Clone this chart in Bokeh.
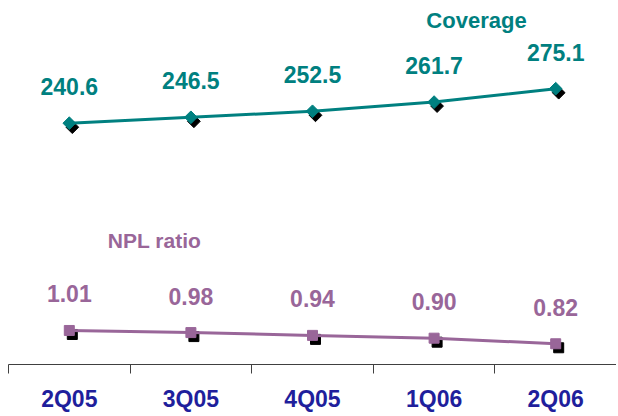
import numpy as np
from bokeh.plotting import figure
from bokeh.models import (Range1d, LinearAxis, FixedTicker, ColumnDataSource,
                          LabelSet, Label)
from bokeh.transform import dodge
from bokeh.core.properties import value
from bokeh.embed import file_html
from bokeh.resources import INLINE

# ---- data ----
quarters = ["2Q05", "3Q05", "4Q05", "1Q06", "2Q06"]
coverage = [240.6, 246.5, 252.5, 261.7, 275.1]
npl_ratio = [1.01, 0.98, 0.94, 0.90, 0.82]

# ---- style ----
TEAL = "#008080"
PURPLE = "#996699"
BLUE = "#1F1F9C"
AXIS = "#404040"
FONT = "Liberation Sans"
FW, FH = 608, 356

xs = list(range(1, len(quarters) + 1))
x_rng = Range1d(0.5, len(quarters) + 0.5)
npl_rng = Range1d(0.524, 0.524 + FH / 70.0)
cov_rng = Range1d(-0.7, -0.7 + FH / 1.0)

src = ColumnDataSource(dict(
    x=xs, q=quarters, cov=coverage, npl=npl_ratio,
    cov_lbl=[f"{v:.1f}" for v in coverage],
    npl_lbl=[f"{v:.2f}" for v in npl_ratio],
))

p = figure(frame_width=FW, frame_height=FH, x_range=x_rng, y_range=npl_rng,
           output_backend="svg", toolbar_location=None,
           min_border_left=8, min_border_right=0, min_border_top=8,
           min_border_bottom=0, x_axis_location=None, y_axis_location=None)
p.extra_y_ranges = {"cov": cov_rng}
p.outline_line_color = None
p.xgrid.visible = False
p.ygrid.visible = False
p.background_fill_color = "white"

# shadow offsets in data units (3px right, 4px down)
dx = 3 * (x_rng.end - x_rng.start) / FW
dy_cov = -4 * (cov_rng.end - cov_rng.start) / FH
dy_npl = -4 * (npl_rng.end - npl_rng.start) / FH

# Coverage series
p.scatter(x=dodge("x", dx), y=dodge("cov", dy_cov), source=src, y_range_name="cov",
          marker="square", angle=np.pi / 4, size=9, color="black")
p.line("x", "cov", source=src, y_range_name="cov", color=TEAL, line_width=3)
p.scatter("x", "cov", source=src, y_range_name="cov",
          marker="square", angle=np.pi / 4, size=9, color=TEAL)

# NPL series
p.scatter(x=dodge("x", dx), y=dodge("npl", dy_npl), source=src,
          marker="square", size=10, color="black")
p.line("x", "npl", source=src, color=PURPLE, line_width=3)
p.scatter("x", "npl", source=src, marker="square", size=10, color=PURPLE)

# value labels
p.add_layout(LabelSet(x="x", y="cov", text="cov_lbl", source=src, y_range_name="cov",
                      y_offset=28, text_align="center", text_baseline="alphabetic",
                      text_font=value(FONT), text_font_style="bold",
                      text_font_size="23px", text_color=TEAL))
p.add_layout(LabelSet(x="x", y="npl", text="npl_lbl", source=src,
                      y_offset=28, text_align="center", text_baseline="alphabetic",
                      text_font=value(FONT), text_font_style="bold",
                      text_font_size="23px", text_color=PURPLE))

# series titles
p.add_layout(Label(x=468, y=FH - 12, x_units="screen", y_units="screen",
                   text="Coverage", text_align="center", text_baseline="alphabetic",
                   text_font=FONT, text_font_style="bold", text_font_size="22px",
                   text_color=TEAL))
p.add_layout(Label(x=146, y=FH - 232, x_units="screen", y_units="screen",
                   text="NPL ratio", text_align="center", text_baseline="alphabetic",
                   text_font=FONT, text_font_style="bold", text_font_size="21px",
                   text_color=PURPLE))

# category axis: labels at centres, tick marks between categories
ax = LinearAxis(ticker=FixedTicker(ticks=xs,
                                   minor_ticks=[v - 0.5 for v in xs] + [xs[-1] + 0.5]))
ax.major_label_overrides = {v: q for v, q in zip(xs, quarters)}
ax.major_tick_line_color = None
ax.major_tick_in = 0
ax.major_tick_out = 0
ax.minor_tick_in = 0
ax.minor_tick_out = 9
ax.minor_tick_line_color = AXIS
ax.axis_line_color = AXIS
ax.major_label_standoff = 12
ax.major_label_text_font = FONT
ax.major_label_text_font_style = "bold"
ax.major_label_text_font_size = "23px"
ax.major_label_text_color = BLUE
p.add_layout(ax, "below")

open("out.html", "w").write(file_html(p, INLINE))
